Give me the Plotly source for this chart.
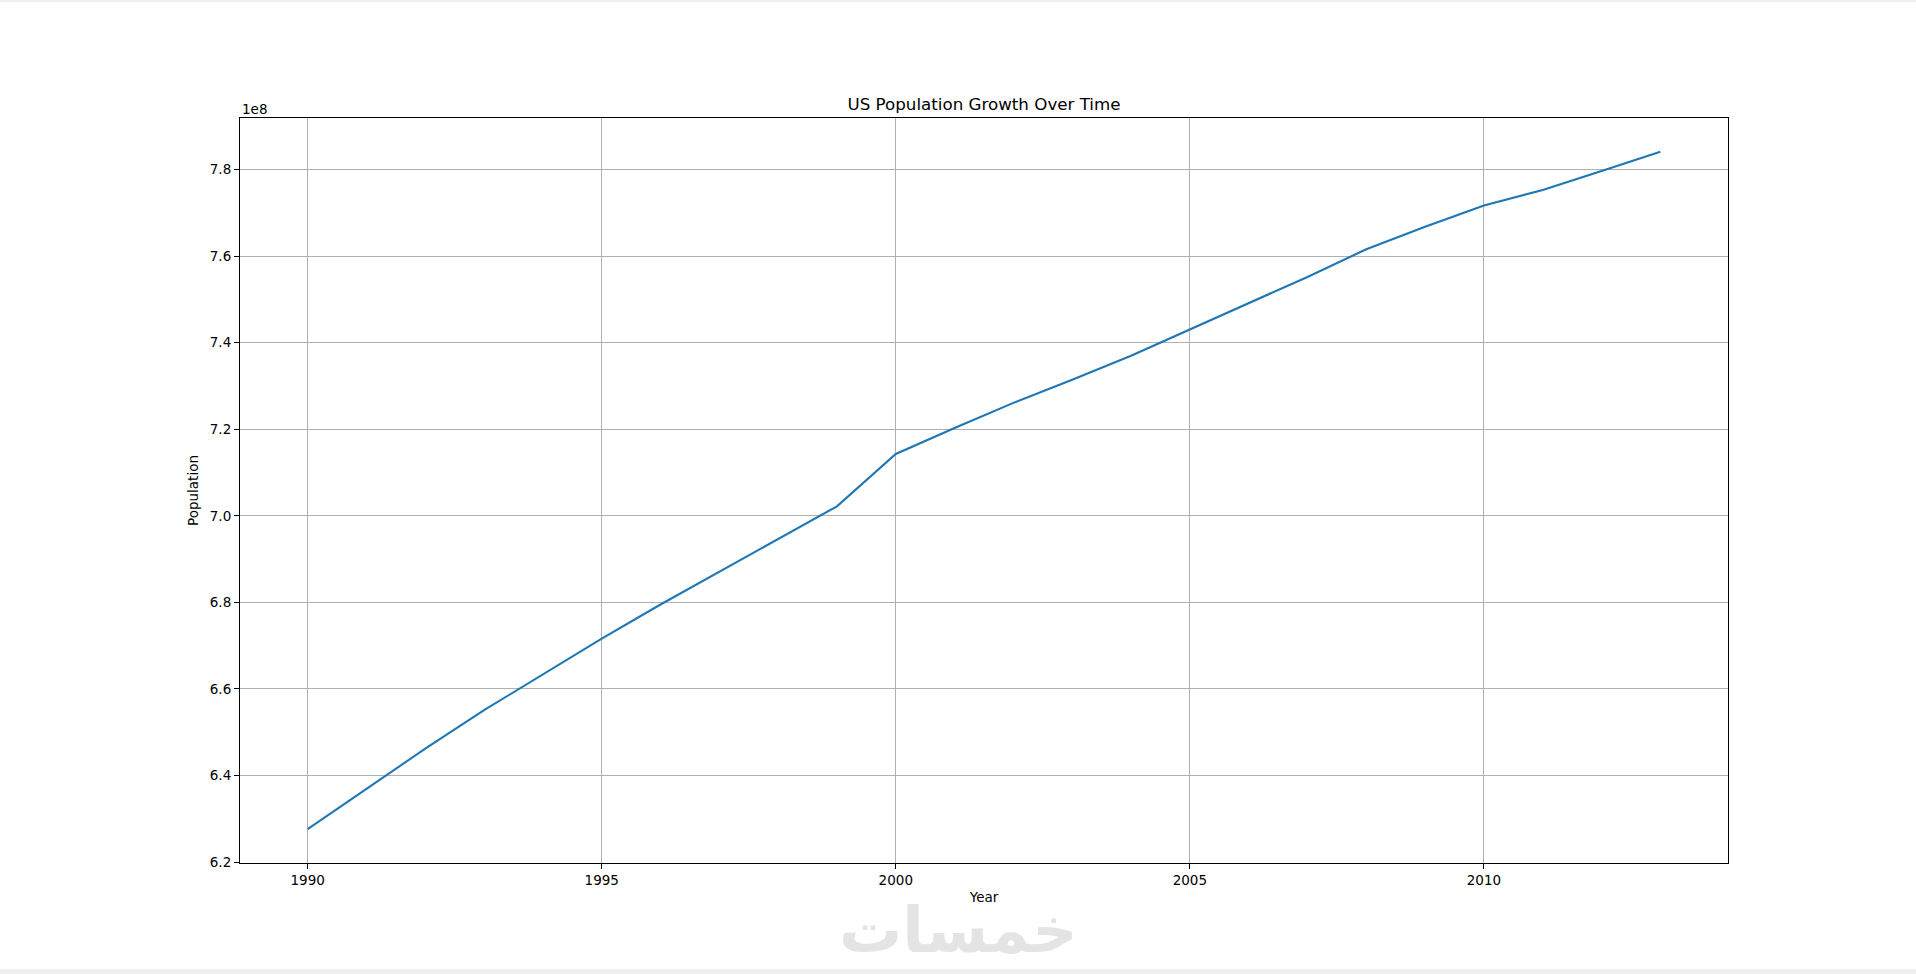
import plotly.graph_objects as go

# ---- data ----
years = list(range(1990, 2014))
population = [
    627.6e6, 636.8e6, 646.2e6, 655.1e6, 663.4e6, 671.6e6, 679.5e6, 687.1e6,
    694.7e6, 702.2e6, 714.3e6, 720.3e6, 726.1e6, 731.45e6, 737.0e6, 743.1e6,
    749.2e6, 755.2e6, 761.6e6, 766.8e6, 771.7e6, 775.3e6, 779.7e6, 784.1e6,
]
x_tick_vals = [1990, 1995, 2000, 2005, 2010]
y_tick_vals = [6.2e8, 6.4e8, 6.6e8, 6.8e8, 7.0e8, 7.2e8, 7.4e8, 7.6e8, 7.8e8]
y_tick_text = ["6.2", "6.4", "6.6", "6.8", "7.0", "7.2", "7.4", "7.6", "7.8"]
title_text = "US Population Growth Over Time"
x_label = "Year"
y_label = "Population"
offset_text = "1e8"
watermark_text = "خمسات"

# ---- layout geometry ----
W, H = 1916, 974
ML, MR, MT, MB = 240, 188, 118, 111
FONT = "DejaVu Sans, Arial, sans-serif"

xspan = max(years) - min(years)
xr = [min(years) - 0.05 * xspan, max(years) + 0.05 * xspan]
yspan = max(population) - min(population)
yr = [min(population) - 0.05 * yspan, max(population) + 0.05 * yspan]

fig = go.Figure()
fig.add_trace(go.Scatter(
    x=years, y=population, mode="lines",
    line=dict(color="#1f77b4", width=2.1),
    showlegend=False, hoverinfo="x+y",
))

plot_h = H - MT - MB
plot_w = W - ML - MR

def py(px):  # pixel y from top -> paper y
    return (H - MB - px) / plot_h

def pxx(px):  # pixel x from left -> paper x
    return (px - ML) / plot_w

axis_common = dict(
    showline=True, linecolor="black", linewidth=1.1, mirror=True,
    ticks="outside", ticklen=5, tickwidth=1.1, tickcolor="black",
    showgrid=True, gridcolor="#b0b0b0", gridwidth=1,
    zeroline=False,
    tickfont=dict(family=FONT, size=13.5, color="black"),
)

fig.update_layout(
    width=W, height=H, autosize=False,
    margin=dict(l=ML, r=MR, t=MT, b=MB, pad=0),
    paper_bgcolor="white", plot_bgcolor="white",
    font=dict(family=FONT, color="black"),
    title=dict(text=title_text, x=pxx(984), xref="paper", xanchor="center",
               y=1 - 104 / H, yref="container", yanchor="middle",
               font=dict(family=FONT, size=16.7, color="black")),
    xaxis=dict(range=xr, tickmode="array", tickvals=x_tick_vals,
               title=dict(text=x_label, standoff=5,
                          font=dict(family=FONT, size=13.5, color="black")),
               **axis_common),
    yaxis=dict(range=yr, tickmode="array", tickvals=y_tick_vals,
               ticktext=y_tick_text,
               title=dict(text=y_label, standoff=8,
                          font=dict(family=FONT, size=13.5, color="black")),
               **axis_common),
    annotations=[
        dict(text=offset_text, xref="paper", yref="paper", x=0, y=py(109),
             xanchor="left", yanchor="middle", showarrow=False,
             font=dict(family=FONT, size=13.5, color="black")),
        dict(text="<b>" + watermark_text + "</b>", xref="paper", yref="paper",
             x=pxx(958), y=py(931), xanchor="center", yanchor="middle",
             showarrow=False,
             font=dict(family=FONT, size=63, color="#e4e4e4")),
    ],
    shapes=[
        dict(type="rect", xref="paper", yref="paper", layer="below",
             x0=pxx(0), x1=pxx(W), y0=py(969), y1=py(H),
             fillcolor="#efefef", line=dict(width=0)),
        dict(type="rect", xref="paper", yref="paper", layer="below",
             x0=pxx(0), x1=pxx(W), y0=py(0), y1=py(2),
             fillcolor="#efefef", line=dict(width=0)),
    ],
)

fig.write_html("out.html", include_plotlyjs=True,
               config={"displayModeBar": False},
               post_script="document.body.style.margin='0';document.body.style.overflow='hidden';")
